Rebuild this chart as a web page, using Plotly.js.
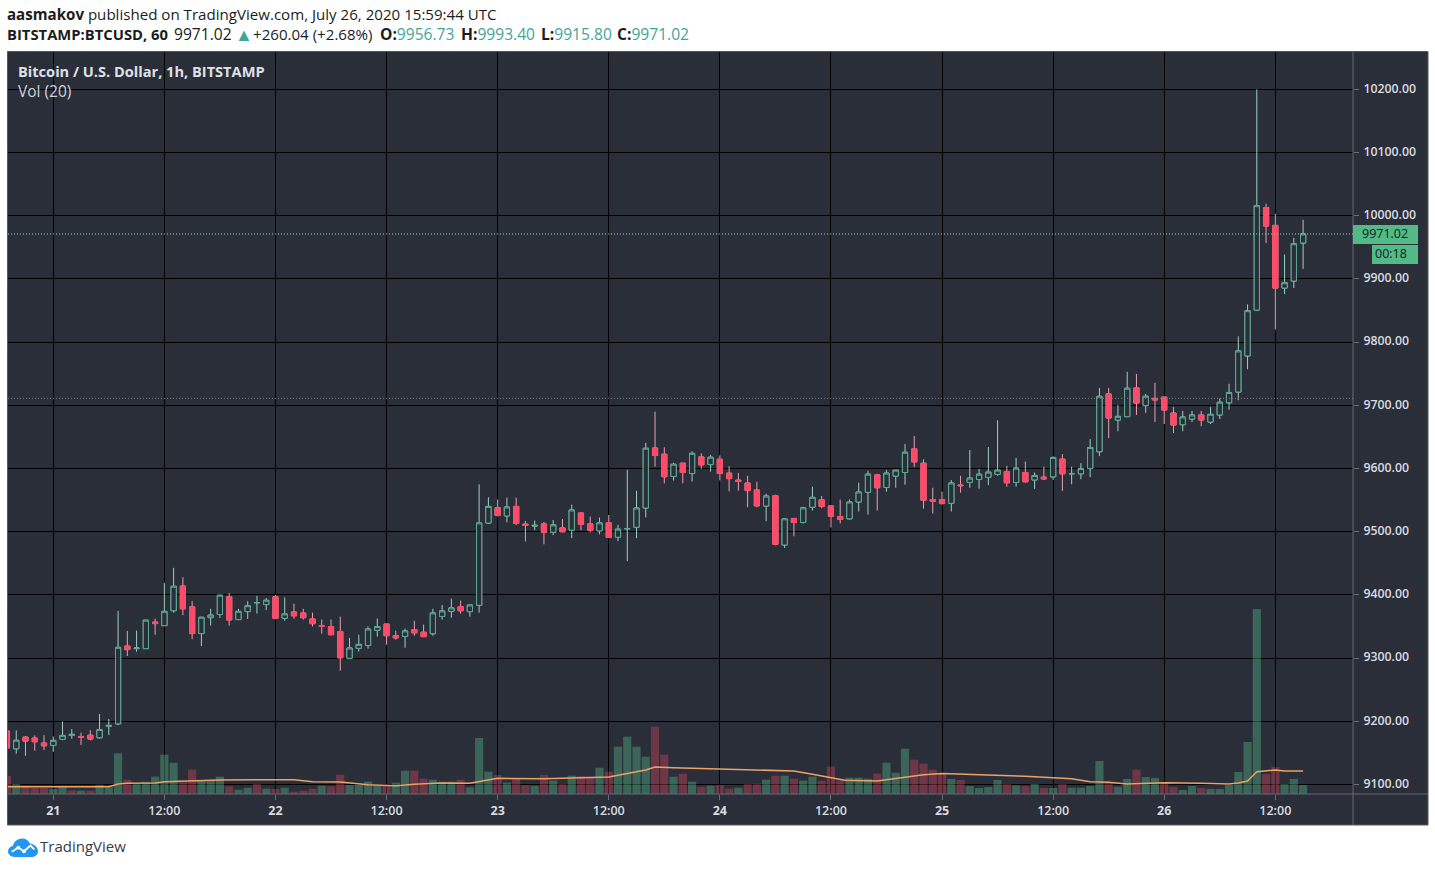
<!DOCTYPE html>
<html><head><meta charset="utf-8">
<script src="https://cdn.plot.ly/plotly-3.0.1.min.js"></script>
<style>html,body{margin:0;padding:0;background:#fff;overflow:hidden}#c{position:absolute;left:0;top:0;width:1435px;height:869px}#logo{position:absolute;left:8px;top:838px}</style>
</head><body><div id="c"></div>
<svg id="logo" width="30" height="19" viewBox="0 0 32 20"><path d="M7 20C3 20 0 17.3 0 14c0-3 2.2-5.3 5.2-5.7C6.6 3.7 10.4 0.5 15 0.5c3.600 0 6.800 2 8.400 5.200C28.300 6.300 32 10 32 14c0 3.300-2.800 6-6.200 6z" fill="#2196f3"/><path d="M4 14.500l7-4.500 6 4 7-6 4 4" fill="none" stroke="#fff" stroke-width="2"/><circle cx="11" cy="10" r="2" fill="#fff"/><circle cx="17" cy="14" r="2" fill="#fff"/></svg>
<script>
const firstHour = -5;
const open = [9184.6,9156.6,9175,9173.5,9165.6,9161.9,9171.4,9177.7,9176,9178,9174,9192,9196,9319,9315,9315,9357,9351.4,9375,9414,9381,9338.8,9364,9369,9397,9361,9373.6,9387.5,9384.7,
9397,9363,9373,9371.4,9362,9351,9350,9342,9299.5,9315.4,9320,9344,9354,9335.5,9334.4,9345,9341,9338.6,9366,9374,9381.5,9373.5,9383.6,9513.7,9538,
9525,9540,9512,9509,9512.3,9499,9506,9502.4,9529.6,9512.3,9501.3,9514,9491.3,9504.5,9507,9537.5,9632.5,9622.6,9587.4,9608.4,9592,9618.4,9606.3,9614.7,9592.6,9581.6,9577,9566,9540.7,
9557,9479,9521,9514.7,9538.7,9550.3,9540.8,9524,9520.4,9547,9562.3,9590,9570,9588,9593.7,9631,9608.4,9550.8,9550.8,9545,9573.8,9578,9582.7,9585.9,9590.6,9594.8,9578,
9593.7,9582,9586.3,9586.8,9614.8,9591.6,9591.6,9600,9626.5,9718,9676.7,9682,9727.5,9699.5,9711,9713,9687.8,9669.3,9678.3,9684.7,9673.5,9684.7,9704,
9721,9778,9850.7,10013,9984.7,9885.5,9896.6,9956.73];
const high = [9186,9185.6,9176.7,9177.7,9178.2,9176,9199.9,9187.7,9182,9186,9211.5,9203.6,9374.7,9343,9343.5,9360.5,9362.5,9419,9442.8,9428,9390,9365,9378,9400,9403,9378,9390,9398.4,9395,
9400,9396,9386,9378,9372,9361,9361,9365.6,9332,9337,9350,9362.4,9354,9343.4,9346.6,9359,9353,9378,9384,9394,9391,9384,9575,9554.5,9551,
9553.8,9553.8,9517,9517.6,9515.5,9518.6,9520,9542.8,9530,9524,9522.3,9526.5,9510.8,9598,9564.8,9640.4,9690,9633.6,9609,9608.4,9627,9624,9621.5,9621,9603.7,9593,9588.5,9579,9560,
9558.6,9520.4,9521,9539.3,9571.2,9556.5,9541,9550.8,9550.8,9577.5,9596.3,9591.6,9597.4,9597.4,9638.7,9651.3,9614.7,9569.6,9563.3,9581.7,9588.5,9629.3,9599.5,9634,9676.4,9604,9616.8,
9611,9593.7,9603,9619,9622.8,9603,9608.5,9646.6,9727.5,9727.5,9700.5,9753,9749.7,9718,9735.4,9713.2,9697.4,9691,9691,9691,9697.4,9711,9734,
9809,9859.7,10200,10019,10003,9938.8,9965,9993.4];
const low = [9156,9148.7,9145.5,9153.4,9154.5,9151.8,9170,9172.4,9162.4,9170,9172.4,9178.2,9194,9303.4,9310,9314.5,9337,9351,9372,9368,9330,9319,9351.4,9363.6,9351.4,9360,9362,9370.4,9376,
9363,9359,9362.5,9361,9350,9338.6,9337,9280,9299,9310.6,9315,9334,9321,9329,9316.4,9335.5,9334,9335.5,9361,9364,9370.4,9365.6,9372,9513,9524,
9515,9510.7,9484.5,9502.4,9480,9494.5,9499,9489.8,9502.4,9499,9496,9491,9485,9453.5,9489.8,9522.8,9603,9576.4,9581,9576.4,9579.5,9599.5,9595,9581,9564,9565,9538.6,9538.6,9516.5,
9478.5,9474.3,9492.7,9513,9533.5,9537,9506.8,9513,9519.4,9532,9527,9533.5,9563.3,9569.6,9574.3,9602.6,9536.6,9528.8,9543,9532,9561.8,9569.6,9568,9573.8,9588.5,9571.2,9571.2,
9578,9567.8,9582,9582,9564.6,9575,9583,9586.3,9619.6,9648,9659,9682,9684.7,9688,9673.5,9670.4,9656,9659,9673.5,9667,9670.4,9678.3,9693,
9708,9757,9850,9956.7,9820,9876,9885.5,9915.8];
const close = [9158,9170,9168.7,9167.7,9161.3,9169.8,9177.7,9179.3,9175,9172,9187,9193.5,9317,9313.4,9316,9360,9354.6,9374,9413.7,9378,9338.8,9364.6,9368,9399.5,9360.4,9374,9383,9388,9391.5,
9363,9370,9367,9364,9354.5,9350,9337,9300.5,9316,9321.7,9346,9350,9335.5,9332,9343,9340,9334,9371.4,9374.6,9379.4,9375,9384,9514,9540,9526,
9539,9513,9510,9510,9499,9510.8,9500,9534.4,9511.8,9502.4,9514,9491.3,9504,9505,9537.5,9632,9620.5,9587,9606.8,9593.7,9624,9605.8,9617.8,9592,9584,9579.5,9565,9541,9556.4,
9480,9520.4,9514.7,9537.7,9554.4,9539.8,9524.6,9519.4,9547,9562.8,9591,9569.6,9592.7,9597.4,9625.7,9610.5,9549.7,9548,9544.5,9577,9572.8,9584.8,9591,9594.2,9597.4,9577.5,9600.5,
9578.9,9589,9583.6,9617.5,9591.6,9592,9600,9633.3,9714.3,9680,9682.5,9727,9703.7,9714.3,9708.5,9692.6,9668.8,9681.5,9684.7,9676.7,9685.7,9704.8,9720.3,
9786,9849.7,10015.8,9983.6,9885.5,9894,9955.7,9971.02];
const volume = [180,100,85,60,60,50,70,37,33,33,93,67,407,143,100,123,173,393,313,117,243,133,133,173,77,43,63,100,53,50,63,23,33,53,83,77,193,90,93,123,83,83,113,233,233,153,143,123,123,143,67,560,
223,190,113,160,90,83,190,133,100,183,180,160,263,223,473,573,473,373,673,393,173,203,123,73,83,90,53,63,100,103,143,183,183,153,133,173,133,273,133,163,163,153,203,313,213,453,343,303,243,
200,150,140,80,60,70,140,100,87,80,100,60,60,100,63,63,80,330,110,73,150,243,170,160,110,70,40,80,60,50,50,90,220,520,1850,200,270,100,150,90];
const volDir = [-1,1,-1,-1,-1,1,1,-1,1,-1,1,1,1,-1,1,1,1,1,1,-1,-1,1,1,1,-1,1,1,-1,1,-1,1,-1,-1,-1,1,-1,-1,1,1,1,1,-1,1,1,-1,-1,1,1,1,-1,1,1,
1,-1,1,-1,-1,1,-1,1,-1,1,-1,-1,1,-1,1,1,1,1,-1,-1,1,-1,1,-1,1,-1,-1,1,-1,-1,1,-1,1,-1,1,1,-1,-1,-1,1,1,1,-1,1,1,1,-1,-1,-1,
-1,1,-1,1,1,1,1,-1,1,-1,1,-1,1,-1,1,1,1,1,-1,1,1,-1,1,1,-1,-1,1,1,-1,1,1,1,1,1,1,-1,-1,1,1,1];
const maHours = [-5,6,7,8,11,12,18,26,28,31,34,37,39,42,45,47,48,53,60,64,65,67,72,75,80,82,84,85.500,89,92,94,96,100,103,105,108,110,112,114,116,119,120,124,127,128,129,130,132,133,135];
const maValues = [73,73,100,107,110,123,140,143,123,120,93,83,97,110,107,140,157,153,170,240,270,263,253,240,230,197,167,137,130,167,193,205,193,187,177,163,153,123,117,100,107,113,107,100,110,130,223,240,230,230];
const xTicks = ['2020-07-21 00:00','2020-07-21 12:00','2020-07-22 00:00','2020-07-22 12:00','2020-07-23 00:00','2020-07-23 12:00','2020-07-24 00:00','2020-07-24 12:00','2020-07-25 00:00','2020-07-25 12:00','2020-07-26 00:00','2020-07-26 12:00'];
const xLabels = ['<b>21</b>','12:00','<b>22</b>','12:00','<b>23</b>','12:00','<b>24</b>','12:00','<b>25</b>','12:00','<b>26</b>','12:00'];
const lastPrice = 9971.02, prevLevel = 9711;

function hourToDate(h){return new Date(Date.UTC(2020,6,21)+h*3600000).toISOString().replace('T',' ').slice(0,19);}
const t = close.map((_,i)=>hourToDate(firstHour+i));
const bodyHigh = open.map((o,i)=>Math.max(o,close[i]));
const bodyLow = open.map((o,i)=>Math.min(o,close[i]));
const BG='#2a2e39', UP='#5aa892', DOWN='#ff4a68';
const traces = [
 {type:'bar',x:t,y:volume,yaxis:'y2',marker:{color:volDir.map(d=>d>0?'rgba(83,185,135,0.4)':'rgba(255,74,104,0.32)'),line:{width:0}},hoverinfo:'skip',showlegend:false},
 {type:'scatter',mode:'lines',x:maHours.map(hourToDate),y:maValues,yaxis:'y2',line:{color:'#eaa268',width:1.500},hoverinfo:'skip',showlegend:false},
 {type:'candlestick',x:t,open:open,high:high,low:low,close:close,whiskerwidth:0,
  increasing:{line:{color:'#9fcfc0',width:1},fillcolor:BG},decreasing:{line:{color:'#e8a0ae',width:1},fillcolor:BG},hoverinfo:'skip',showlegend:false},
 {type:'candlestick',x:t,open:open,high:bodyHigh,low:bodyLow,close:close,whiskerwidth:0,
  increasing:{line:{color:UP,width:1},fillcolor:BG},decreasing:{line:{color:DOWN,width:1},fillcolor:DOWN},hoverinfo:'skip',showlegend:false}
];
const W=1345,H=742;
const px=x=>(x-8)/W, py=y=>(794-y)/H;
const FF='"Open Sans", sans-serif';
function rect(x0,y0,x1,y1,fill,line,layer){return {type:'rect',xref:'paper',yref:'paper',x0:px(x0),x1:px(x1),y0:py(y0),y1:py(y1),fillcolor:fill,line:line||{width:0},layer:layer||'below'};}
function hl(x0,y0,x1,y1,c){return {type:'line',xref:'paper',yref:'paper',x0:px(x0),x1:px(x1),y0:py(y0),y1:py(y1),line:{color:c,width:1},layer:'above'};}
function note(x,y,text,size,color,anchor){return {xref:'paper',yref:'paper',x:px(x),y:py(y),xanchor:anchor||'left',yanchor:'middle',text:text,showarrow:false,align:'left',font:{family:FF,size:size,color:color},borderpad:0,borderwidth:0};}
const TEAL='#3fa695', INK='#1c1c1c', HS=15.100, VS=15.600;
const val=v=>'<span style="color:'+TEAL+'">'+v+'</span>';
const layout={
 width:1435,height:869,margin:{l:8,r:82,t:52,b:75,pad:0},paper_bgcolor:'#fff',plot_bgcolor:BG,showlegend:false,
 bargap:0.12,boxgap:0.2,boxmode:'overlay',
 xaxis:{type:'date',range:['2020-07-20 19:06:36','2020-07-26 20:23:24'],tickmode:'array',tickvals:xTicks,ticktext:xLabels,showgrid:true,gridcolor:'#000',gridwidth:1,
  rangeslider:{visible:false},ticks:'outside',ticklen:5,tickcolor:'#6a6d78',tickfont:{family:FF,size:12.500,color:'#d9dbe0',weight:600},zeroline:false,showline:false,fixedrange:true},
 yaxis:{side:'right',range:[9085,10259],tick0:9100,dtick:100,tickformat:'.2f',showgrid:true,gridcolor:'#000',gridwidth:1,ticks:'outside',ticklen:5,tickcolor:'#6a6d78',ticklabelstandoff:2,ticklabelshift:-1,
  tickfont:{family:FF,size:12.300,color:'#d9dbe0',weight:600},showline:false,zeroline:false,fixedrange:true},
 yaxis2:{overlaying:'y',side:'left',range:[0,7420],visible:false,showgrid:false,fixedrange:true},
 shapes:[
  rect(7.500,51.500,1428,825,BG,{color:'#55585f',width:1}),
  hl(1353,52,1353,825,'#666973'),
  hl(8,794,1428,794,'#666973'),
  {type:'line',xref:'paper',yref:'y',x0:0,x1:1,y0:lastPrice,y1:lastPrice,line:{color:'#8fdcc2',width:1,dash:'1px,2px'},layer:'above'},
  {type:'line',xref:'paper',yref:'y',x0:0,x1:1,y0:prevLevel,y1:prevLevel,line:{color:'#7c7f88',width:1,dash:'1px,2px'},layer:'above'},
  rect(1353,225,1418,244,'#53b987',null,'above'),
  rect(1372,245,1418,264,'#53b987',null,'above')
 ],
 annotations:[
  note(7,14,'<b>aasmakov</b> published on TradingView.com, July 26, 2020 15:59:44 UTC',HS,INK),
  note(7,34,'<b>BITSTAMP:BTCUSD, 60</b>',14.800,INK),
  note(174,34,'9971.02',VS,INK),
  note(235,34,val('▲'),18,TEAL),
  note(253,34,'+260.04 (+2.68%)',HS,INK),
  note(380,34,'<b>O:</b>'+val('9956.73'),VS,INK),
  note(461,34,'<b>H:</b>'+val('9993.40'),VS,INK),
  note(541,34,'<b>L:</b>'+val('9915.80'),VS,INK),
  note(617,34,'<b>C:</b>'+val('9971.02'),VS,INK),
  note(18,71,'<b>Bitcoin / U.S. Dollar, 1h, BITSTAMP</b>',14.600,'#dfe1e6'),
  note(18,91,'Vol (20)',15.500,'#d0d3d9'),
  note(1362,234,'9971.02',12.500,'#10231b'),
  note(1375,254,'00:18',12.500,'#10231b'),
  note(40,846,'TradingView',15,'#3a3d45')
 ]
};
Plotly.newPlot('c',traces,layout,{displayModeBar:false,staticPlot:true});
</script></body></html>
